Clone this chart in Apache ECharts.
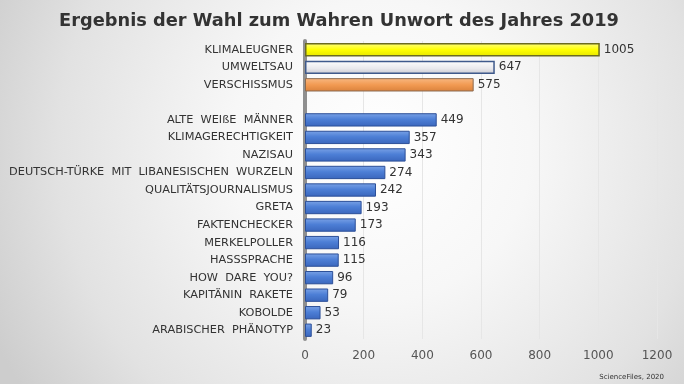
<!DOCTYPE html>
<html><head><meta charset="utf-8">
<script src="https://cdn.jsdelivr.net/npm/echarts@6/dist/echarts.min.js"></script>
<style>html,body{margin:0;padding:0;}#c{width:684px;height:384px;}</style>
</head><body><div id="c"></div>
<script>
const categories = ['KLIMALEUGNER','UMWELTSAU','VERSCHISSMUS','','ALTE  WEIßE  MÄNNER','KLIMAGERECHTIGKEIT','NAZISAU','DEUTSCH-TÜRKE  MIT  LIBANESISCHEN  WURZELN','QUALITÄTSJOURNALISMUS','GRETA','FAKTENCHECKER','MERKELPOLLER','HASSSPRACHE','HOW  DARE  YOU?','KAPITÄNIN  RAKETE','KOBOLDE','ARABISCHER  PHÄNOTYP'];
const votes = [1005,647,575,null,449,357,343,274,242,193,173,116,115,96,79,53,23];
const xTicks = [0,200,400,600,800,1000,1200];

const LG = echarts.graphic.LinearGradient;
const blue = {color:new LG(0,0,0,1,[{offset:0,color:'#7aa2e6'},{offset:0.45,color:'#4d7fd6'},{offset:1,color:'#3a66bc'}]),borderColor:'#2c4f98',borderWidth:1};
const special = [
  {color:new LG(0,0,0,1,[{offset:0,color:'#ffff80'},{offset:0.5,color:'#ffff00'},{offset:1,color:'#e6e600'}]),borderColor:'#6b6b20',borderWidth:1.5},
  {color:new LG(0,0,0,1,[{offset:0,color:'#ffffff'},{offset:0.6,color:'#e8e8ec'},{offset:1,color:'#c8c8d0'}]),borderColor:'#3f5a8c',borderWidth:1.5},
  {color:new LG(0,0,0,1,[{offset:0,color:'#f8b882'},{offset:0.5,color:'#f29a52'},{offset:1,color:'#da823c'}]),borderColor:'#8a6a50',borderWidth:1}
];
const data = votes.map((v,i)=>({value:v,itemStyle:i<3?special[i]:blue}));

const chart = echarts.init(document.getElementById('c'));
chart.setOption({
  animation:false,
  graphic:[
    {type:'rect',z:-10,silent:true,shape:{x:0,y:0,width:684,height:384},
     style:{fill:new echarts.graphic.RadialGradient(380,150,430,[{offset:0,color:'#ffffff'},{offset:0.35,color:'#f7f7f7'},{offset:0.75,color:'#e2e2e2'},{offset:1,color:'#cdcdcd'}],true)}},
    {type:'text',right:20,bottom:3,style:{text:'ScienceFiles, 2020',fontSize:7,fill:'#333',fontFamily:'DejaVu Sans'}}
  ],
  title:{text:'Ergebnis der Wahl zum Wahren Unwort des Jahres 2019',left:334,textAlign:'center',top:7,
    textStyle:{fontFamily:'DejaVu Sans',fontWeight:'bold',fontSize:17.8,color:'#333'}},
  grid:{left:305,right:27,top:41,bottom:45},
  xAxis:{type:'value',min:0,max:1200,interval:200,
    axisLine:{show:false},axisTick:{show:false},
    axisLabel:{color:'#555',fontSize:12,fontFamily:'DejaVu Sans',margin:11,formatter:v=>xTicks.includes(v)?String(v):''},
    splitLine:{lineStyle:{color:'#e6e6e6'}}},
  yAxis:{type:'category',data:categories,inverse:true,
    axisLine:{lineStyle:{color:'#8f8f8f',width:4}},axisTick:{show:false},
    axisLabel:{color:'#333',fontSize:11.3,fontFamily:'DejaVu Sans',margin:12}},
  series:[{type:'bar',data:data,barCategoryGap:'24%',
    label:{show:true,position:'right',color:'#333',fontSize:12,fontFamily:'DejaVu Sans',distance:4}}]
});
</script></body></html>
